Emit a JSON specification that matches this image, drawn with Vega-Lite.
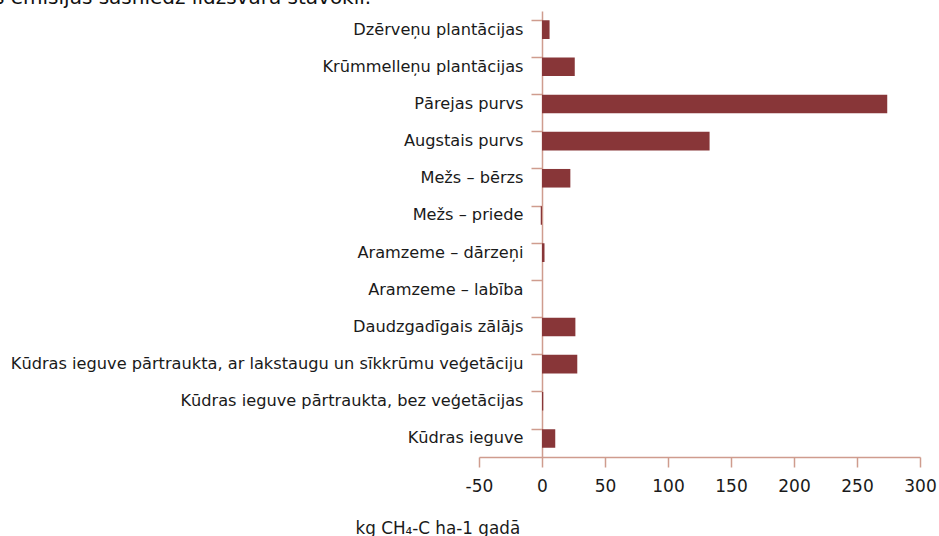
{
  "$schema": "https://vega.github.io/schema/vega-lite/v6.json",
  "autosize": "none",
  "width": 441,
  "height": 446,
  "padding": {"left": 479, "top": 11, "right": 19, "bottom": 79},
  "background": "white",
  "title": {
    "text": "s emisijas sasniedz līdzsvara stāvokli.",
    "anchor": "start",
    "frame": "group",
    "orient": "top",
    "align": "left",
    "baseline": "alphabetic",
    "dx": -485,
    "dy": 15.5,
    "offset": 3,
    "fontSize": 20,
    "fontWeight": "normal",
    "font": "DejaVu Sans",
    "color": "#111"
  },
  "config": {
    "view": {"stroke": null},
    "font": "DejaVu Sans",
    "axis": {
      "domainColor": "#cf9c8e",
      "tickColor": "#cf9c8e",
      "domainWidth": 1.5,
      "tickWidth": 1.5,
      "labelColor": "#1a1a1a",
      "titleColor": "#1a1a1a",
      "labelFont": "DejaVu Sans",
      "titleFont": "DejaVu Sans",
      "grid": false
    }
  },
  "data": {
    "values": [
      {"kategorija": "Dzērveņu plantācijas", "vertiba": 6},
      {"kategorija": "Krūmmelleņu plantācijas", "vertiba": 26},
      {"kategorija": "Pārejas purvs", "vertiba": 274},
      {"kategorija": "Augstais purvs", "vertiba": 133},
      {"kategorija": "Mežs – bērzs", "vertiba": 22.5},
      {"kategorija": "Mežs – priede", "vertiba": -1},
      {"kategorija": "Aramzeme – dārzeņi", "vertiba": 2},
      {"kategorija": "Aramzeme – labība", "vertiba": 0},
      {"kategorija": "Daudzgadīgais zālājs", "vertiba": 26.5},
      {"kategorija": "Kūdras ieguve pārtraukta, ar lakstaugu un sīkkrūmu veģetāciju", "vertiba": 28},
      {"kategorija": "Kūdras ieguve pārtraukta, bez veģetācijas", "vertiba": 1},
      {"kategorija": "Kūdras ieguve", "vertiba": 10.5}
    ]
  },
  "mark": {"type": "bar", "color": "#883638"},
  "encoding": {
    "y": {
      "field": "kategorija",
      "type": "nominal",
      "sort": null,
      "scale": {"paddingInner": 0.5, "paddingOuter": 0.25},
      "axis": {
        "title": null,
        "offset": -63,
        "bandPosition": 0,
        "tickSize": 11,
        "labelPadding": 8,
        "labelFontSize": 16.2,
        "labelLimit": 600
      }
    },
    "x": {
      "field": "vertiba",
      "type": "quantitative",
      "scale": {"domain": [-50, 300], "nice": false, "zero": false},
      "axis": {
        "values": [-50, 0, 50, 100, 150, 200, 250, 300],
        "labelExpr": "replace(datum.label, '−', '-')",
        "tickSize": 10,
        "labelPadding": 11,
        "labelFontSize": 17,
        "labelFlush": false,
        "title": "kg CH₄-C ha-1 gadā",
        "titleFontSize": 16.8,
        "titleFontWeight": "normal",
        "titleAnchor": "start",
        "titleAlign": "left",
        "titleX": -124,
        "titleY": 76,
        "titleBaseline": "alphabetic"
      }
    }
  }
}
